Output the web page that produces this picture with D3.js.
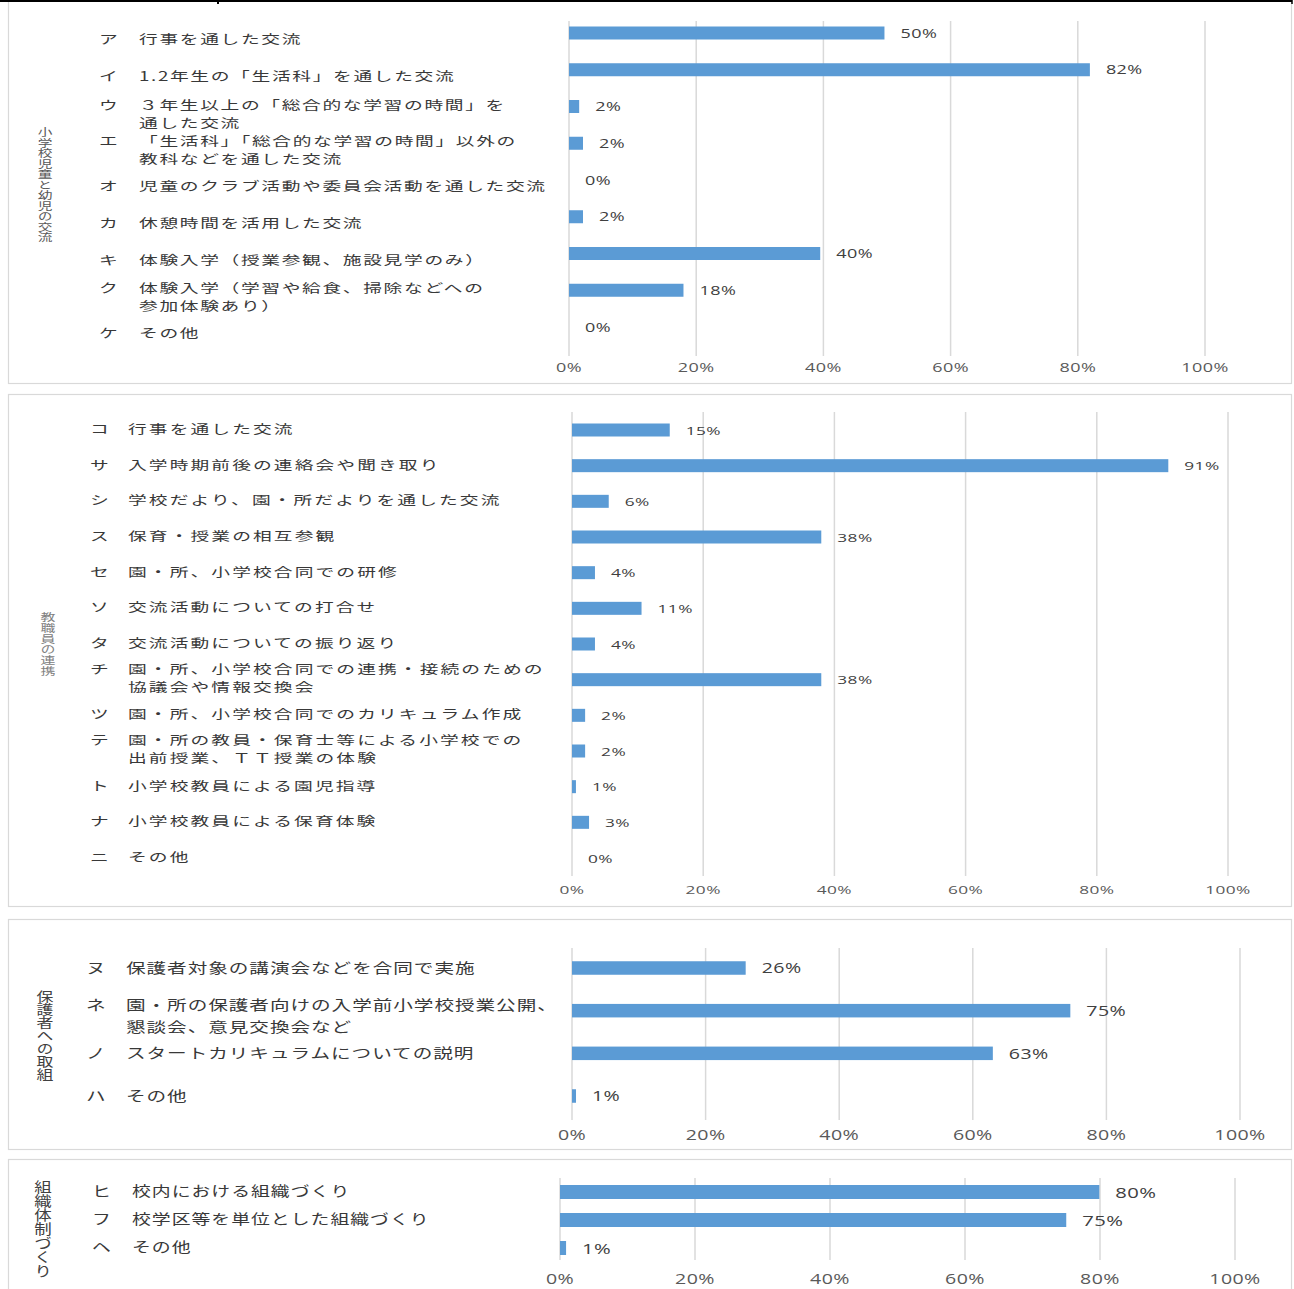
<!DOCTYPE html>
<html><head><meta charset="utf-8">
<script src="https://cdn.jsdelivr.net/npm/d3@7"></script>
<style>html,body{margin:0;padding:0;background:#fff;}svg{display:block;}</style>
</head><body>
<script>
// ---------- DATA ----------
const tickValues = [0, 20, 40, 60, 80, 100];
const tickLabels = ["0%", "20%", "40%", "60%", "80%", "100%"];

const groupNames = ["小学校児童と幼児の交流", "教職員の連携", "保護者への取組", "組織体制づくり"];

const kanaA = ["ア","イ","ウ","エ","オ","カ","キ","ク","ケ"];
const textA = [
  ["行事を通した交流"],
  ["1.2年生の「生活科」を通した交流"],
  ["３年生以上の「総合的な学習の時間」を","通した交流"],
  ["「生活科」「総合的な学習の時間」以外の","教科などを通した交流"],
  ["児童のクラブ活動や委員会活動を通した交流"],
  ["休憩時間を活用した交流"],
  ["体験入学（授業参観、施設見学のみ）"],
  ["体験入学（学習や給食、掃除などへの","参加体験あり）"],
  ["その他"]
];
const valuesA = [49.6, 81.9, 1.6, 2.2, 0, 2.2, 39.5, 18, 0];

const kanaB = ["コ","サ","シ","ス","セ","ソ","タ","チ","ツ","テ","ト","ナ","ニ"];
const textB = [
  ["行事を通した交流"],
  ["入学時期前後の連絡会や聞き取り"],
  ["学校だより、園・所だよりを通した交流"],
  ["保育・授業の相互参観"],
  ["園・所、小学校合同での研修"],
  ["交流活動についての打合せ"],
  ["交流活動についての振り返り"],
  ["園・所、小学校合同での連携・接続のための","協議会や情報交換会"],
  ["園・所、小学校合同でのカリキュラム作成"],
  ["園・所の教員・保育士等による小学校での","出前授業、ＴＴ授業の体験"],
  ["小学校教員による園児指導"],
  ["小学校教員による保育体験"],
  ["その他"]
];
const valuesB = [14.9, 90.9, 5.6, 38, 3.5, 10.6, 3.5, 38, 2, 2, 0.6, 2.6, 0];

const kanaC = ["ヌ","ネ","ノ","ハ"];
const textC = [
  ["保護者対象の講演会などを合同で実施"],
  ["園・所の保護者向けの入学前小学校授業公開、","懇談会、意見交換会など"],
  ["スタートカリキュラムについての説明"],
  ["その他"]
];
const valuesC = [26, 74.6, 63, 0.6];

const kanaD = ["ヒ","フ","ヘ"];
const textD = [
  ["校内における組織づくり"],
  ["校学区等を単位とした組織づくり"],
  ["その他"]
];
const valuesD = [79.9, 75, 0.9];

// ---------- LAYOUT ----------
const W = 1294, H = 1289;
const BAR = "#5B9BD5", GRID = "#d9d9d9", BORDER = "#d9d9d9";
const JP = "'Noto Sans CJK JP','Noto Sans',sans-serif";
const NUM = "'Open Sans','Noto Sans',sans-serif";
const LABEL = "#383838";

const layouts = [
  {box:[8,-2,1291,383], x:[569,1205], grid:[21,356], c:[33,327], bh:13, tickY:367, tickFs:12, valFs:12, sx:1.5,
   jpFs:12.5, ls:1.1, kanaX:99, textX:139, single:6, multi:[-2,16], gx:45, gy:127, gfs:10.5, gsx:1.4, gfill:"#595959"},
  {box:[8,394,1291,906], x:[572,1228], grid:[412,876], c:[430,858], bh:13, tickY:889, tickFs:11.5, valFs:11.5, sx:1.5,
   jpFs:12.5, ls:1.4, kanaX:90, textX:128, single:-1, multi:[-11,7], gx:48, gy:612, gfs:10.7, gsx:1.4, gfill:"#808080"},
  {box:[8,919,1291,1149], x:[572,1240], grid:[948,1120], c:[968,1096], bh:13.5, tickY:1135, tickFs:14, valFs:14, sx:1.4,
   jpFs:14, ls:0.7, kanaX:86, textX:126, single:-1, multi:[-7,15], gx:45, gy:990, gfs:13, gsx:1.3, gfill:"#404040"},
  {box:[8,1159,1291,1300], x:[560,1235], grid:[1178,1260], c:[1192,1248], bh:14, tickY:1279, tickFs:14.5, valFs:15, sx:1.35,
   jpFs:14, ls:0.7, kanaX:92, textX:132, single:-2, multi:[0,18], gx:43, gy:1180, gfs:14, gsx:1.25, gfill:"#404040"}
];

const panels = [
  {kana:kanaA, text:textA, values:valuesA},
  {kana:kanaB, text:textB, values:valuesB},
  {kana:kanaC, text:textC, values:valuesC},
  {kana:kanaD, text:textD, values:valuesD}
];

const svg = d3.select("body").append("svg").attr("width", W).attr("height", H);

function stext(g, x, y, str, o) {
  return g.append("text")
    .attr("transform", `translate(${x},${y}) scale(${o.sx},1)`)
    .attr("text-anchor", o.anchor || "start")
    .attr("dominant-baseline", "central")
    .style("font-family", o.family)
    .style("font-size", o.fs + "px")
    .style("letter-spacing", (o.ls || 0) + "px")
    .attr("fill", o.fill)
    .text(str);
}

panels.forEach((p, pi) => {
  const L = layouts[pi];
  const g = svg.append("g");
  g.append("rect").attr("x", L.box[0] + 0.5).attr("y", L.box[1] + 0.5)
    .attr("width", L.box[2] - L.box[0]).attr("height", L.box[3] - L.box[1])
    .attr("fill", "#fff").attr("stroke", BORDER).attr("stroke-width", 1.2);

  const x = d3.scaleLinear().domain([0, 100]).range(L.x);
  const y = d3.scalePoint().domain(p.kana).range(L.c);

  // gridlines
  g.selectAll(".grid").data(tickValues).join("line")
    .attr("x1", d => x(d)).attr("x2", d => x(d))
    .attr("y1", L.grid[0]).attr("y2", L.grid[1])
    .attr("stroke", GRID).attr("stroke-width", 1.5);

  // tick labels
  tickValues.forEach((t, i) => {
    stext(g, x(t), L.tickY, tickLabels[i], {sx:L.sx, anchor:"middle", family:NUM, fs:L.tickFs, fill:"#595959", ls:0.3});
  });

  // bars
  g.selectAll(".bar").data(p.values).join("rect")
    .attr("x", x(0))
    .attr("y", (d, i) => y(p.kana[i]) - L.bh / 2)
    .attr("width", d => x(d) - x(0))
    .attr("height", L.bh)
    .attr("fill", BAR);

  // value labels
  p.values.forEach((v, i) => {
    stext(g, x(v) + 16, y(p.kana[i]), Math.round(v) + "%", {sx:L.sx, family:NUM, fs:L.valFs, fill:"#404040", ls:0.3});
  });

  // category labels
  p.kana.forEach((k, i) => {
    const c = y(k);
    const lines = p.text[i];
    const ys = lines.length === 1 ? [c + L.single] : lines.map((_, j) => c + L.multi[j]);
    stext(g, L.kanaX, ys[0], k, {sx:L.sx, family:JP, fs:L.jpFs, fill:LABEL, ls:L.ls});
    lines.forEach((ln, j) => {
      stext(g, L.textX, ys[j], ln, {sx:L.sx, family:JP, fs:L.jpFs, fill:LABEL, ls:L.ls});
    });
  });

  // vertical group label
  g.append("text")
    .attr("transform", `translate(${L.gx},${L.gy}) scale(${L.gsx},1)`)
    .style("writing-mode", "vertical-rl")
    .style("text-orientation", "upright")
    .style("font-family", JP)
    .style("font-size", L.gfs + "px")
    .attr("fill", L.gfill)
    .text(groupNames[pi]);
});

// top table border remnant (drawn last so it sits on top)
svg.append("line").attr("x1",0).attr("x2",1292).attr("y1",1).attr("y2",1).attr("stroke","#000").attr("stroke-width",2);
svg.append("line").attr("x1",218).attr("x2",218).attr("y1",0).attr("y2",4).attr("stroke","#000").attr("stroke-width",2);
svg.append("line").attr("x1",1292).attr("x2",1292).attr("y1",0).attr("y2",4).attr("stroke","#000").attr("stroke-width",1.5);
</script>
</body></html>
